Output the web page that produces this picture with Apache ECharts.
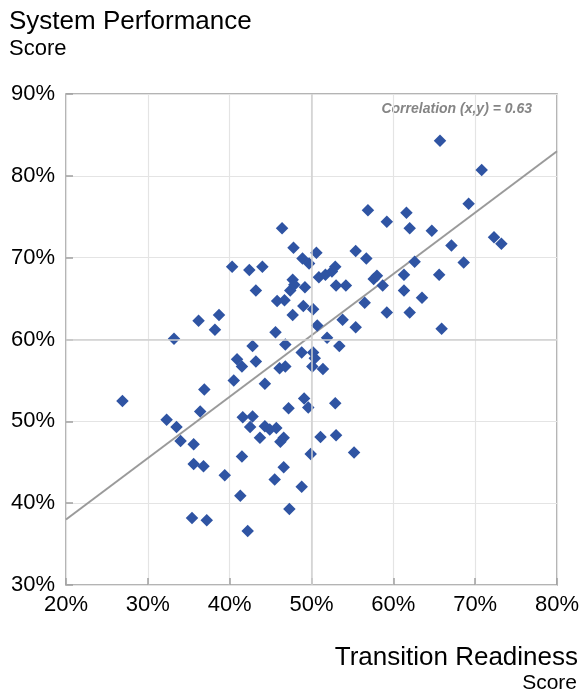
<!DOCTYPE html>
<html>
<head>
<meta charset="utf-8">
<script src="https://cdn.jsdelivr.net/npm/echarts@6/dist/echarts.min.js"></script>
<style>
html,body{margin:0;padding:0;background:#fff;}
#chart{width:583px;height:691px;}
</style>
</head>
<body>
<div id="chart"></div>
<script>
// Transition Readiness (x, %) and System Performance (y, %)
var readiness = [26.9,32.3,33.2,33.5,34.0,35.4,35.6,35.6,36.2,36.4,36.8,36.9,37.2,38.2,38.7,39.4,40.3,40.5,40.9,41.3,41.5,41.5,41.6,42.2,42.4,42.5,42.8,42.8,43.2,43.2,43.7,44.0,44.3,44.3,44.9,45.5,45.6,45.7,45.8,46.1,46.2,46.4,46.6,46.6,46.7,46.8,46.8,47.2,47.3,47.4,47.7,47.7,47.8,47.9,48.8,48.8,48.9,49.0,49.1,49.2,49.7,49.6,49.9,50.1,50.2,50.2,50.4,50.6,50.7,50.9,51.1,51.4,51.7,51.9,52.5,52.9,52.9,53.0,53.0,53.4,53.8,54.2,55.2,55.4,55.4,56.5,56.7,56.9,57.6,58.0,58.7,59.2,59.2,61.3,61.3,61.6,62.0,62.0,62.6,63.5,64.7,65.6,65.7,65.9,67.1,68.6,69.2,70.8,72.3,73.2];
var performance = [52.5,50.2,60.1,49.3,47.6,38.2,47.2,44.8,62.3,51.2,44.5,53.9,37.9,61.2,63.0,43.4,68.9,55.0,57.6,40.9,56.7,45.7,50.5,36.6,68.5,49.3,59.2,50.6,57.3,66.0,48.0,68.9,54.6,49.4,49.0,42.9,60.9,49.2,64.7,56.5,47.5,73.6,44.4,48.0,64.8,59.4,56.7,51.6,39.3,66.0,67.3,63.0,71.2,66.7,58.4,42.0,69.9,64.1,52.8,66.4,69.3,51.7,46.0,56.7,63.7,58.4,57.7,70.6,61.7,67.6,48.1,56.4,67.9,60.2,68.3,68.9,52.2,66.6,48.3,59.2,62.4,66.6,46.2,70.8,61.5,64.5,69.9,75.8,67.4,67.8,66.6,74.4,63.3,67.9,66.0,75.5,73.6,63.3,69.5,65.1,73.3,67.9,84.3,61.3,71.5,69.4,76.6,80.7,72.5,71.7];
var trendX = [20, 80];
var trendY = [38.0, 83.0];
var xTicks = {min: 20, max: 80, step: 10};
var yTicks = {min: 30, max: 90, step: 10};
var crossX = 50, crossY = 60;
var correlationText = 'Correlation (x,y) = 0.63';

var points = readiness.map(function (x, i) { return [x, performance[i]]; });
var trend = trendX.map(function (x, i) { return [x, trendY[i]]; });

var FONT = '"Liberation Sans", Arial, sans-serif';
var chart = echarts.init(document.getElementById('chart'), null, {renderer: 'canvas'});
chart.setOption({
  animation: false,
  backgroundColor: '#ffffff',
  grid: {left: 66, top: 94, width: 491, height: 491, show: true, borderColor: '#9c9c9c', borderWidth: 1.6, backgroundColor: 'transparent'},
  xAxis: {
    type: 'value', min: xTicks.min, max: xTicks.max, interval: xTicks.step,
    axisLine: {show: false},
    axisTick: {show: true, inside: true, length: 7, lineStyle: {color: '#a0a0a0', width: 1.5}},
    splitLine: {show: true, lineStyle: {color: '#e4e4e4', width: 1.2}},
    axisLabel: {formatter: '{value}%', fontFamily: FONT, fontSize: 22, color: '#000', margin: 9}
  },
  yAxis: {
    type: 'value', min: yTicks.min, max: yTicks.max, interval: yTicks.step,
    axisLine: {show: false},
    axisTick: {show: true, inside: true, length: 7, lineStyle: {color: '#a0a0a0', width: 1.5}},
    splitLine: {show: true, lineStyle: {color: '#e4e4e4', width: 1.2}},
    axisLabel: {formatter: '{value}%', fontFamily: FONT, fontSize: 22, color: '#000', margin: 11}
  },
  series: [
    {
      type: 'line', data: [], silent: true,
      markLine: {
        silent: true, symbol: 'none', label: {show: false},
        lineStyle: {color: '#d0d0d0', width: 1.5, type: 'solid'},
        data: [{xAxis: crossX}, {yAxis: crossY}]
      }
    },
    {
      type: 'line', data: trend, showSymbol: false, silent: true, z: 3,
      lineStyle: {color: '#9a9a9a', width: 2}
    },
    {
      type: 'scatter', data: points, symbol: 'diamond', symbolSize: 12.5, z: 4,
      itemStyle: {color: '#2F54A3', opacity: 1}
    }
  ],
  graphic: [
    {type: 'text', left: 9, top: 9, style: {text: 'System Performance', font: '26px ' + FONT, fill: '#000'}},
    {type: 'text', left: 9, top: 38, style: {text: 'Score', font: '22px ' + FONT, fill: '#000'}},
    {type: 'text', right: 5, top: 645, style: {text: 'Transition Readiness', font: '26px ' + FONT, fill: '#000', textAlign: 'right'}},
    {type: 'text', right: 6, top: 673, style: {text: 'Score', font: '21px ' + FONT, fill: '#000', textAlign: 'right'}},
    {type: 'text', x: 532, y: 109, style: {text: correlationText, font: 'italic bold 14px ' + FONT, fill: '#858585', textAlign: 'right', textVerticalAlign: 'middle'}}
  ]
});
</script>
</body>
</html>
